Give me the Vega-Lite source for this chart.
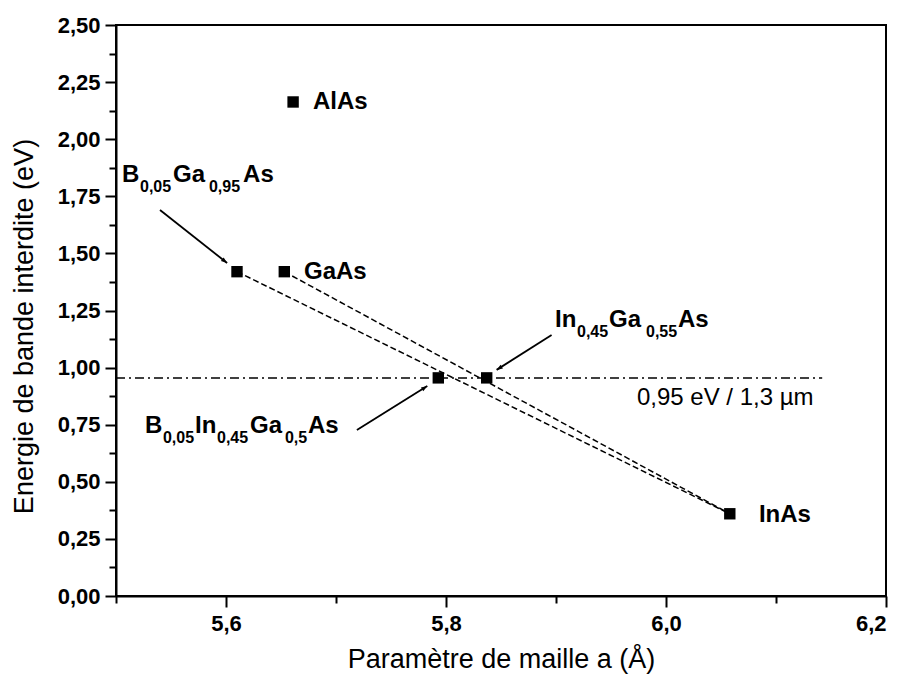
{
  "$schema": "https://vega.github.io/schema/vega-lite/v6.json",
  "width": 770,
  "height": 571,
  "autosize": "none",
  "padding": {"left": 116, "top": 25, "right": 19, "bottom": 84},
  "background": "white",
  "config": {
    "font": "Liberation Sans",
    "view": {"stroke": "black", "strokeWidth": 2},
    "axis": {
      "grid": false,
      "domainColor": "black",
      "domainWidth": 2,
      "tickColor": "black",
      "tickWidth": 2,
      "labelFont": "Liberation Sans",
      "labelFontWeight": "bold",
      "labelFontSize": 22,
      "labelColor": "black",
      "titleFont": "Liberation Sans",
      "titleFontWeight": "normal",
      "titleFontSize": 27,
      "titleColor": "black"
    }
  },
  "datasets": {
    "compounds": [
      {"name": "AlAs", "a": 5.661, "eg": 2.163},
      {"name": "GaAs", "a": 5.653, "eg": 1.42},
      {"name": "InAs", "a": 6.058, "eg": 0.36},
      {"name": "B0.05Ga0.95As", "a": 5.61, "eg": 1.42},
      {"name": "In0.45Ga0.55As", "a": 5.837, "eg": 0.955},
      {"name": "B0.05In0.45Ga0.5As", "a": 5.793, "eg": 0.955}
    ],
    "tielines": [
      {"series": "GaAs-InAs", "a": 5.653, "eg": 1.42},
      {"series": "GaAs-InAs", "a": 6.058, "eg": 0.36},
      {"series": "BGaAs-InAs", "a": 5.61, "eg": 1.42},
      {"series": "BGaAs-InAs", "a": 6.058, "eg": 0.36}
    ],
    "target": [
      {"a": 5.5, "eg": 0.955},
      {"a": 6.142, "eg": 0.955}
    ],
    "arrows": [
      {"a": 5.54, "eg": 1.69, "a2": 5.601, "eg2": 1.458},
      {"a": 5.896, "eg": 1.143, "a2": 5.846, "eg2": 0.99},
      {"a": 5.719, "eg": 0.727, "a2": 5.783, "eg2": 0.919}
    ],
    "labels": [
      {"kind": "main", "text": "B", "a": 5.5055, "eg": 1.8126},
      {"kind": "sub", "text": "0,05", "a": 5.5218, "eg": 1.7688},
      {"kind": "main", "text": "Ga", "a": 5.5518, "eg": 1.8126},
      {"kind": "sub", "text": "0,95", "a": 5.5845, "eg": 1.7688},
      {"kind": "main", "text": "As", "a": 5.6155, "eg": 1.8126},
      {"kind": "main", "text": "In", "a": 5.8991, "eg": 1.1778},
      {"kind": "sub", "text": "0,45", "a": 5.9191, "eg": 1.134},
      {"kind": "main", "text": "Ga", "a": 5.9482, "eg": 1.1778},
      {"kind": "sub", "text": "0,55", "a": 5.9818, "eg": 1.134},
      {"kind": "main", "text": "As", "a": 6.0109, "eg": 1.1778},
      {"kind": "main", "text": "B", "a": 5.5264, "eg": 0.7137},
      {"kind": "sub", "text": "0,05", "a": 5.5427, "eg": 0.6699},
      {"kind": "main", "text": "In", "a": 5.5718, "eg": 0.7137},
      {"kind": "sub", "text": "0,45", "a": 5.5918, "eg": 0.6699},
      {"kind": "main", "text": "Ga", "a": 5.6218, "eg": 0.7137},
      {"kind": "sub", "text": "0,5", "a": 5.6536, "eg": 0.6699},
      {"kind": "main", "text": "As", "a": 5.6745, "eg": 0.7137},
      {"kind": "plain", "text": "AlAs", "a": 5.679, "eg": 2.163},
      {"kind": "plain", "text": "GaAs", "a": 5.6709, "eg": 1.4186},
      {"kind": "plain", "text": "InAs", "a": 6.0845, "eg": 0.3546},
      {"kind": "note", "text": "0,95 eV / 1,3 µm", "a": 5.9736, "eg": 0.8669}
    ]
  },
  "encoding": {
    "x": {
      "field": "a",
      "type": "quantitative",
      "scale": {"domain": [5.5, 6.2], "nice": false, "zero": false},
      "axis": {
        "title": "Paramètre de maille a (Å)",
        "values": [5.5, 5.6, 5.7, 5.8, 5.9, 6.0, 6.1, 6.2],
        "labelExpr": "round(datum.value * 10) % 2 == 0 ? replace(format(datum.value, '.1f'), '.', ',') : ''",
        "tickSize": {"condition": {"test": "round(datum.value * 10) % 2 == 1", "value": 7}, "value": 11},
        "labelPadding": 6,
        "titlePadding": 12
      }
    },
    "y": {
      "field": "eg",
      "type": "quantitative",
      "scale": {"domain": [0, 2.5], "nice": false, "zero": false},
      "axis": {
        "title": "Energie de bande interdite (eV)",
        "values": [0, 0.125, 0.25, 0.375, 0.5, 0.625, 0.75, 0.875, 1, 1.125, 1.25, 1.375, 1.5, 1.625, 1.75, 1.875, 2, 2.125, 2.25, 2.375, 2.5],
        "labelExpr": "round(datum.value * 8) % 2 == 0 ? replace(format(datum.value, '.2f'), '.', ',') : ''",
        "tickSize": {"condition": {"test": "round(datum.value * 8) % 2 == 1", "value": 7}, "value": 11},
        "labelPadding": 5,
        "titlePadding": 19,
        "titleY": 301
      }
    }
  },
  "layer": [
    {
      "data": {"name": "target"},
      "mark": {"type": "line", "color": "black", "strokeWidth": 1.5, "strokeDash": [9, 4, 2, 4]},
      "encoding": {}
    },
    {
      "data": {"name": "tielines"},
      "mark": {"type": "line", "color": "black", "strokeWidth": 1.5, "strokeDash": [6, 3]},
      "encoding": {"detail": {"field": "series"}}
    },
    {
      "data": {"name": "arrows"},
      "mark": {"type": "rule", "color": "black", "strokeWidth": 1.8},
      "encoding": {
        "x2": {"field": "a2"},
        "y2": {"field": "eg2"}
      }
    },
    {
      "data": {"name": "arrows"},
      "transform": [
        {"calculate": "atan2((datum.a2 - datum.a) * 1100, (datum.eg2 - datum.eg) * 228.4) * 180 / PI", "as": "heading"}
      ],
      "mark": {"type": "point", "filled": true, "color": "black", "opacity": 1, "shape": "M0,0L-0.36,1L0.36,1Z", "size": 150},
      "encoding": {
        "x": {"field": "a2", "type": "quantitative"},
        "y": {"field": "eg2", "type": "quantitative"},
        "angle": {"field": "heading", "type": "quantitative", "scale": null}
      }
    },
    {
      "data": {"name": "compounds"},
      "mark": {"type": "point", "shape": "square", "filled": true, "color": "black", "opacity": 1, "size": 130}
    },
    {
      "data": {"name": "labels"},
      "transform": [{"filter": "datum.kind == 'main'"}],
      "mark": {"type": "text", "align": "left", "baseline": "alphabetic", "fontSize": 24, "fontWeight": "bold", "color": "black"},
      "encoding": {"text": {"field": "text"}}
    },
    {
      "data": {"name": "labels"},
      "transform": [{"filter": "datum.kind == 'sub'"}],
      "mark": {"type": "text", "align": "left", "baseline": "alphabetic", "fontSize": 16, "fontWeight": "bold", "color": "black"},
      "encoding": {"text": {"field": "text"}}
    },
    {
      "data": {"name": "labels"},
      "transform": [{"filter": "datum.kind == 'plain'"}],
      "mark": {"type": "text", "align": "left", "baseline": "middle", "fontSize": 24, "fontWeight": "bold", "color": "black"},
      "encoding": {"text": {"field": "text"}}
    },
    {
      "data": {"name": "labels"},
      "transform": [{"filter": "datum.kind == 'note'"}],
      "mark": {"type": "text", "align": "left", "baseline": "middle", "fontSize": 24, "fontWeight": "normal", "color": "black"},
      "encoding": {"text": {"field": "text"}}
    }
  ]
}
